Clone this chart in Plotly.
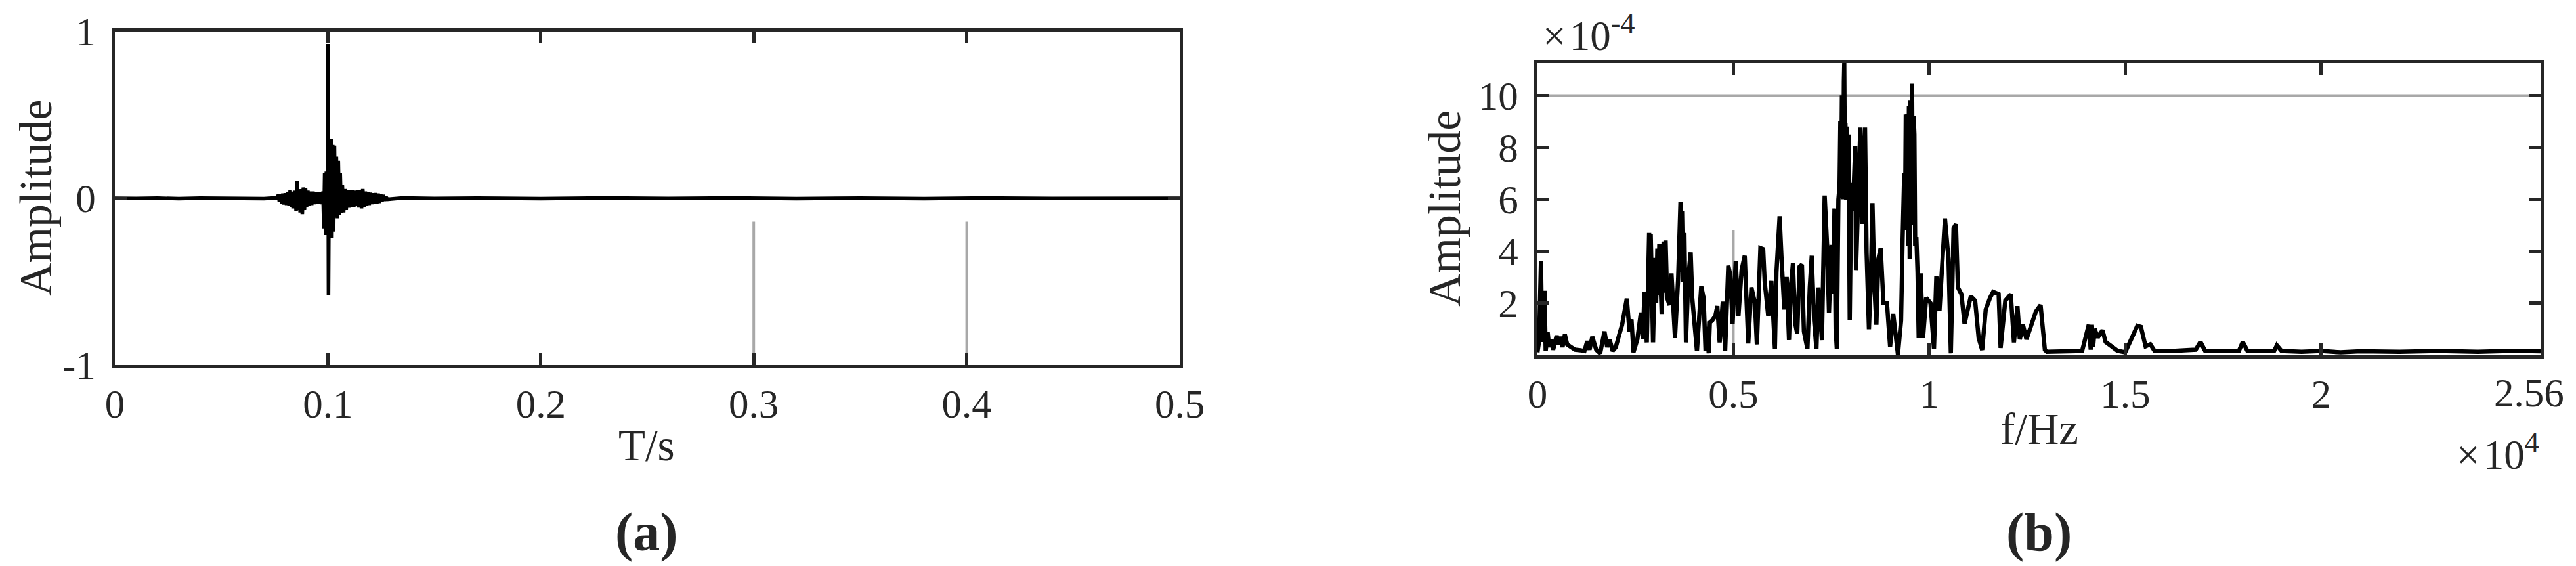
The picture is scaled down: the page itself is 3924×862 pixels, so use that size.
import plotly.graph_objects as go

# ---------------- (a) time signal ----------------
sig_t = [0.000, 0.005, 0.010, 0.020, 0.030, 0.040, 0.050, 0.060, 0.070, 0.0760,
         0.0768, 0.0772, 0.0778, 0.0783, 0.0789, 0.0794, 0.0800, 0.0806, 0.0812, 0.0818,
         0.0823, 0.0829, 0.0835, 0.0840, 0.0846, 0.0851, 0.0856, 0.0860, 0.0865, 0.0870,
         0.0875, 0.0880, 0.0885, 0.0890, 0.0895, 0.0900, 0.0906, 0.0912, 0.0918, 0.0924,
         0.0930, 0.0936, 0.0942, 0.0948, 0.0954, 0.0960, 0.0966, 0.0972, 0.0977, 0.0981,
         0.0985, 0.0989, 0.0993, 0.0997, 0.1000, 0.1003, 0.1007, 0.1011, 0.1015, 0.1019,
         0.1023, 0.1027, 0.1031, 0.1035, 0.1040, 0.1045, 0.1049, 0.1054, 0.1058, 0.1063,
         0.1068, 0.1074, 0.1080, 0.1086, 0.1092, 0.1098, 0.1104, 0.1110, 0.1116, 0.1122,
         0.1128, 0.1134, 0.1140, 0.1146, 0.1152, 0.1158, 0.1164, 0.1170, 0.1176, 0.1182,
         0.1188, 0.1194, 0.1200, 0.1206, 0.1212, 0.1218, 0.1224, 0.1230, 0.1236, 0.1242,
         0.1248, 0.1254, 0.1260, 0.1266, 0.1272, 0.1280,
         0.135, 0.150, 0.170, 0.200, 0.230, 0.260, 0.290, 0.320, 0.350, 0.380,
         0.410, 0.440, 0.470, 0.500]
sig_amp = [0.000, 0.002, -0.001, 0.001, -0.002, 0.001, -0.001, 0.002, -0.002, 0.003,
           0.020, -0.018, 0.025, -0.030, 0.028, -0.037, 0.030, -0.040, 0.035, -0.045,
           0.048, -0.050, 0.040, -0.060, 0.045, -0.076, 0.105, -0.070, 0.050, -0.085,
           0.055, -0.095, 0.065, -0.070, 0.060, -0.050, 0.045, -0.045, 0.040, -0.040,
           0.040, -0.035, 0.038, -0.032, 0.035, -0.030, 0.035, -0.035, 0.040, -0.180,
           0.150, -0.220, 0.160, -0.200, 0.925, -0.580, 0.330, -0.220, 0.356, -0.240,
           0.320, -0.200, 0.316, -0.115, 0.250, -0.120, 0.225, -0.100, 0.150, -0.090,
           0.080, -0.085, 0.055, -0.070, 0.050, -0.056, 0.048, -0.050, 0.048, -0.050,
           0.045, -0.045, 0.050, -0.055, 0.050, -0.060, 0.055, -0.050, 0.040, -0.045,
           0.035, -0.040, 0.033, -0.035, 0.030, -0.032, 0.031, -0.030, 0.028, -0.028,
           0.024, -0.022, 0.020, -0.015, 0.010, -0.006,
           0.002, -0.001, 0.001, -0.002, 0.002, -0.001, 0.002, -0.002, 0.001, -0.002,
           0.002, -0.001, 0.002, 0.000]

# ---------------- (b) spectrum (f in 1e4 Hz, amplitude in 1e-4) ----------------
spec_f = [0.000, 0.004, 0.009, 0.012, 0.015, 0.018, 0.021, 0.026, 0.030, 0.035,
          0.040, 0.049, 0.054, 0.059, 0.064, 0.070, 0.076, 0.085, 0.096, 0.110,
          0.120, 0.127, 0.133, 0.140, 0.150, 0.160, 0.171, 0.178, 0.184, 0.192,
          0.200, 0.208, 0.216, 0.228, 0.235, 0.240, 0.245, 0.255, 0.264, 0.269,
          0.273, 0.279, 0.285, 0.287, 0.289, 0.295, 0.300, 0.303, 0.306, 0.309,
          0.311, 0.317, 0.322, 0.325, 0.327, 0.331, 0.337, 0.342, 0.351, 0.359,
          0.363, 0.365, 0.367, 0.369, 0.372, 0.375, 0.379,
          0.385, 0.391, 0.395, 0.407, 0.418, 0.424, 0.429, 0.433, 0.437, 0.440,
          0.446, 0.454, 0.459, 0.465, 0.473, 0.479, 0.487, 0.492, 0.498, 0.506,
          0.513, 0.521, 0.529, 0.538, 0.546, 0.555, 0.560, 0.569, 0.576, 0.580,
          0.589, 0.597, 0.606, 0.610, 0.618, 0.623, 0.630, 0.636, 0.642, 0.646,
          0.652, 0.658, 0.663, 0.669, 0.675, 0.680, 0.689, 0.695, 0.700, 0.706,
          0.712, 0.717, 0.726, 0.733, 0.739, 0.744, 0.750, 0.755, 0.758, 0.761,
          0.764, 0.768, 0.771, 0.773, 0.775, 0.777, 0.780, 0.782, 0.783, 0.785,
          0.786, 0.788, 0.789, 0.791, 0.794, 0.797, 0.801,
          0.805, 0.811, 0.813, 0.819, 0.824, 0.829, 0.836, 0.840, 0.846, 0.851,
          0.855, 0.860, 0.865, 0.870, 0.876, 0.883, 0.892, 0.900, 0.908, 0.920,
          0.928, 0.932, 0.934, 0.936, 0.938, 0.940, 0.942, 0.944, 0.946, 0.948,
          0.950, 0.952, 0.954, 0.956, 0.958, 0.960, 0.962, 0.964, 0.967, 0.970,
          0.973, 0.978,
          0.984, 0.992, 1.003, 1.012, 1.018, 1.026, 1.032, 1.040, 1.049, 1.055,
          1.062, 1.068, 1.073, 1.082, 1.090, 1.106, 1.117, 1.126, 1.135, 1.144,
          1.155, 1.163, 1.177, 1.182, 1.194, 1.208, 1.216, 1.225, 1.231, 1.239,
          1.248, 1.256, 1.272, 1.284, 1.295, 1.300, 1.390, 1.407, 1.412, 1.415,
          1.418, 1.422, 1.430, 1.442, 1.450, 1.465, 1.480, 1.500, 1.518, 1.531,
          1.540, 1.552, 1.564, 1.575, 1.620, 1.680, 1.692, 1.704, 1.790, 1.800,
          1.812, 1.880, 1.887, 1.899, 1.950, 2.000, 2.050, 2.100, 2.200, 2.300,
          2.400, 2.500, 2.560]
spec_amp = [0.10, 0.50, 3.61, 0.50, 1.20, 2.47, 0.15, 0.87, 0.30, 0.60,
            0.20, 0.74, 0.40, 0.70, 0.30, 0.78, 0.40, 0.30, 0.20, 0.18,
            0.15, 0.53, 0.20, 0.70, 0.20, 0.06, 0.90, 0.30, 0.60, 0.15,
            0.30, 0.74, 1.16, 2.17, 0.90, 1.37, 0.10, 0.60, 1.63, 0.60,
            2.43, 0.48, 4.70, 2.60, 4.67, 0.48, 3.74, 2.00, 4.10, 2.30,
            4.28, 1.58, 4.37, 2.40, 4.41, 2.20, 1.92, 3.14, 0.65, 2.93,
            4.60, 5.89, 3.20, 5.55, 2.80, 4.70, 0.48,
            3.00, 3.95, 2.20, 0.15, 2.64, 2.20, 0.15, 1.08, 0.06, 1.25,
            1.33, 1.50, 1.88, 0.48, 2.05, 0.15, 3.44, 3.10, 1.20, 3.61,
            1.50, 3.27, 3.82, 0.44, 2.60, 2.00, 0.40, 4.12, 4.08, 2.80,
            1.50, 2.85, 0.23, 3.19, 5.34, 3.70, 1.75, 3.00, 0.57, 2.50,
            3.53, 1.20, 0.82, 3.40, 3.48, 0.90, 0.23, 2.60, 3.82, 1.33,
            0.23, 2.60, 0.57, 6.14, 4.28, 1.63, 4.24, 2.35, 5.64, 1.00,
            0.23, 5.98, 6.50, 9.02, 6.20, 10.0, 6.00, 10.54, 11.25, 6.00,
            8.93, 5.98, 8.80, 6.00, 8.50, 1.33, 6.65,
            5.55, 8.04, 3.27, 6.57, 8.76, 5.05, 8.76, 3.95, 0.99, 3.02,
            5.85, 2.60, 1.16, 3.70, 4.12, 2.00, 2.00, 0.32, 1.58, 0.02,
            1.33, 4.50, 5.81, 7.00, 4.80, 9.27, 5.00, 9.30, 4.20, 9.60,
            3.70, 9.80, 5.00, 10.45, 5.50, 9.20, 8.50, 4.20, 4.54, 3.20,
            0.65, 3.14,
            0.65, 2.20, 2.00, 0.23, 3.02, 1.70, 3.02, 5.26, 3.70, 0.06,
            4.88, 5.04, 2.60, 2.34, 1.20, 2.26, 2.09, 0.65, 0.19, 1.75,
            2.20, 2.43, 2.34, 0.27, 2.09, 2.34, 0.48, 1.88, 0.60, 1.16,
            0.60, 0.99, 1.67, 1.92, 0.19, 0.12, 0.15, 1.16, 0.20, 1.16,
            0.30, 1.00, 0.67, 0.95, 0.50, 0.33, 0.16, 0.10, 0.67, 1.12,
            1.08, 0.33, 0.41, 0.15, 0.15, 0.20, 0.50, 0.15, 0.15, 0.50,
            0.15, 0.15, 0.37, 0.15, 0.12, 0.15, 0.10, 0.14, 0.12, 0.15,
            0.12, 0.16, 0.14]

# tick labels
a_xticks = [0, 0.1, 0.2, 0.3, 0.4, 0.5]
a_yticks = [-1, 0, 1]
a_yticktext = ["-1", "0", "1"]
b_xticks = [0, 0.5, 1, 1.5, 2, 2.56]
b_xticktext = ["0", "0.5", "1", "1.5", "2", ""]
b_last_label = "2.56"
b_yticks = [2, 4, 6, 8, 10]

# faint grey partial grid lines visible in the original
a_grid_t = [0.3, 0.4]
a_grid_span = [-0.14, -1.0]
b_grid_f = [0.5]
b_grid_span = [0.0, 4.8]
b_grid_amp = [10]

W, H = 3924, 862
FONT = "Times New Roman, Liberation Serif, serif"
AX = "#262626"
GREY = "#a8a8a8"
TICK_SIZE = 61


def px_x(p):
    return p / W


def px_y(p):
    return 1 - p / H


fig = go.Figure()
fig.add_trace(go.Scatter(x=sig_t, y=sig_amp, mode="lines",
                         line=dict(color="black", width=5.5),
                         xaxis="x", yaxis="y", showlegend=False))
fig.add_trace(go.Scatter(x=spec_f, y=spec_amp, mode="lines",
                         line=dict(color="black", width=6.5),
                         xaxis="x2", yaxis="y2", showlegend=False))

common = dict(showline=True, linecolor=AX, linewidth=5, mirror="ticks",
              ticks="inside", ticklen=18, tickwidth=5, tickcolor=AX,
              showgrid=False, zeroline=False, automargin=False,
              tickfont=dict(family=FONT, size=TICK_SIZE, color=AX))

shapes = []
for t in a_grid_t:
    shapes.append(dict(type="line", xref="x", yref="y", x0=t, x1=t,
                       y0=a_grid_span[0], y1=a_grid_span[1],
                       line=dict(color=GREY, width=4), layer="below"))
for f in b_grid_f:
    shapes.append(dict(type="line", xref="x2", yref="y2", x0=f, x1=f,
                       y0=b_grid_span[0], y1=b_grid_span[1],
                       line=dict(color=GREY, width=4), layer="below"))
for a in b_grid_amp:
    shapes.append(dict(type="line", xref="x2", yref="y2", x0=0, x1=2.56,
                       y0=a, y1=a, line=dict(color=GREY, width=4), layer="below"))

ann = []
def text(x, y, s, size, bold=False, angle=0, xanchor="center", yanchor="middle"):
    ann.append(dict(x=px_x(x), y=px_y(y), xref="paper", yref="paper", text=s,
                    showarrow=False, textangle=angle, xanchor=xanchor, yanchor=yanchor,
                    font=dict(family=FONT, size=size, color="black" if bold else AX)))

text(46, 294, "Amplitude", 70, angle=-90)
text(977, 670, "T/s", 67)
text(977, 802, "<b>(a)</b>", 82)
text(2192, 310, "Amplitude", 70, angle=-90)
text(3098, 645, "f/Hz", 67)
text(3098, 802, "<b>(b)</b>", 82)
text(3900, 590, b_last_label, TICK_SIZE, xanchor="right", yanchor="middle")
text(2340, 84, "×\u200a10<sup>-4</sup>", 63, xanchor="left", yanchor="bottom")
text(3862, 680, "×\u200a10<sup>4</sup>", 63, xanchor="right", yanchor="middle")

fig.update_layout(
    width=W, height=H,
    margin=dict(l=0, r=0, t=0, b=0, autoexpand=False),
    paper_bgcolor="white", plot_bgcolor="white",
    font=dict(family=FONT, color=AX),
    xaxis=dict(domain=[px_x(167), px_x(1789)], range=[0, 0.5], tickvals=a_xticks,
               anchor="y", ticklabelstandoff=2, **common),
    yaxis=dict(domain=[px_y(548), px_y(40)], range=[-1, 1], tickvals=a_yticks,
               ticktext=a_yticktext, anchor="x", ticklabelstandoff=12, **common),
    xaxis2=dict(domain=[px_x(2334), px_x(3862)], range=[0, 2.56], tickvals=b_xticks,
                ticktext=b_xticktext, anchor="y2", ticklabelstandoff=2, **common),
    yaxis2=dict(domain=[px_y(532.5), px_y(88)], range=[0, 11.25], tickvals=b_yticks,
                anchor="x2", ticklabelstandoff=12, **common),
    shapes=shapes,
    annotations=ann,
)

fig.write_html("out.html")
